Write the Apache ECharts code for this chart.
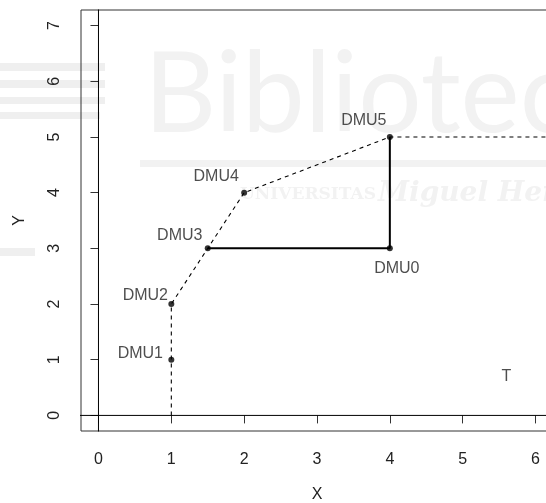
<!DOCTYPE html>
<html>
<head>
<meta charset="utf-8">
<script src="https://cdn.jsdelivr.net/npm/echarts@6/dist/echarts.min.js"></script>
<style>
  html, body { margin: 0; padding: 0; background: #fff; }
  #chart { width: 546px; height: 503px; }
</style>
</head>
<body>
<div id="chart"></div>
<script>
// Decision-making units and their (X, Y) coordinates
const unitNames = ['DMU0', 'DMU1', 'DMU2', 'DMU3', 'DMU4', 'DMU5'];
const unitX = [4, 1, 1, 1.5, 2, 4];
const unitY = [3, 1, 2, 3, 4, 5];

// Efficient frontier (dashed), from the X axis up to DMU5 and on to the right
const frontierX = [1, 1, 1, 1.5, 2, 4, 7];
const frontierY = [0, 1, 2, 3, 4, 5, 5];

// Projection path of DMU0 (solid)
const pathX = [1.5, 4, 4];
const pathY = [3, 3, 5];

// Region label
const regionLabel = 'T';
const regionX = 5.6;
const regionY = 0.7;

// Axis ticks
const xTicks = [0, 1, 2, 3, 4, 5, 6];
const yTicks = [0, 1, 2, 3, 4, 5, 6, 7];
const xRange = [-0.24, 6.24];
const yRange = [-0.28, 7.28];

// Label placement around each point (pixels)
const labelOffsets = {
  DMU0: [7, 20],
  DMU1: [-31, -6],
  DMU2: [-26, -8],
  DMU3: [-28, -13],
  DMU4: [-28, -16],
  DMU5: [-26, -16]
};

const FONT = 'Liberation Sans, Arial, sans-serif';
const TEXT = '#222';
const FS = 16;

const pairs = (xs, ys) => xs.map((x, i) => [x, ys[i]]);

const chart = echarts.init(document.getElementById('chart'), null, { renderer: 'canvas' });

const wm = '#f2f2f2';
const stripe = '#efefef';

chart.setOption({
  animation: false,
  backgroundColor: '#fff',
  textStyle: { fontFamily: FONT },
  graphic: [
    // faint library watermark in the background
    { type: 'rect', z: -10, shape: { x: 0, y: 63, width: 105, height: 8 }, style: { fill: stripe } },
    { type: 'rect', z: -10, shape: { x: 0, y: 80, width: 105, height: 8 }, style: { fill: stripe } },
    { type: 'rect', z: -10, shape: { x: 0, y: 97, width: 105, height: 7 }, style: { fill: stripe } },
    { type: 'rect', z: -10, shape: { x: 0, y: 112, width: 100, height: 7 }, style: { fill: stripe } },
    { type: 'rect', z: -10, shape: { x: 140, y: 160, width: 406, height: 7 }, style: { fill: '#f2f2f2' } },
    { type: 'rect', z: -10, shape: { x: 0, y: 248, width: 35, height: 8 }, style: { fill: stripe } },
    { type: 'text', z: -10, x: 144, y: 96, style: { text: 'Biblioteca', fill: wm, font: '400 112px Lato, sans-serif', verticalAlign: 'middle' } },
    { type: 'text', z: -10, x: 240, y: 195, style: { text: 'UNIVERSITAS', fill: wm, font: 'bold 17px "DejaVu Serif", serif', verticalAlign: 'middle' } },
    { type: 'text', z: -10, x: 378, y: 194, style: { text: 'Miguel Hernández', fill: wm, font: 'italic bold 28px "DejaVu Serif", serif', verticalAlign: 'middle' } }
  ],
  grid: {
    show: true,
    left: 81,
    top: 10,
    bottom: 72,
    right: -7,
    containLabel: false,
    outerBoundsMode: 'none',
    borderColor: '#333',
    borderWidth: 1,
    backgroundColor: 'transparent'
  },
  xAxis: {
    type: 'value',
    min: xRange[0],
    max: xRange[1],
    name: 'X',
    nameLocation: 'middle',
    nameGap: 56,
    nameTextStyle: { color: TEXT, fontSize: FS, fontFamily: FONT },
    axisLine: { show: false },
    splitLine: { show: false },
    axisTick: { show: true, inside: false, length: 8, customValues: xTicks, lineStyle: { color: '#333', width: 1 } },
    axisLabel: { show: true, margin: 21, customValues: xTicks, color: TEXT, fontSize: FS, fontFamily: FONT }
  },
  yAxis: {
    type: 'value',
    min: yRange[0],
    max: yRange[1],
    name: 'Y',
    nameLocation: 'middle',
    nameGap: 53,
    nameRotate: 90,
    nameTextStyle: { color: TEXT, fontSize: FS, fontFamily: FONT },
    axisLine: { show: false },
    splitLine: { show: false },
    axisTick: { show: true, inside: false, length: 8, customValues: yTicks, lineStyle: { color: '#333', width: 1 } },
    axisLabel: { show: true, rotate: 90, margin: 18, customValues: yTicks, color: TEXT, fontSize: FS, fontFamily: FONT }
  },
  series: [
    {
      // reference lines X = 0 and Y = 0
      type: 'line',
      data: [[0, yRange[0] - 1], [0, yRange[1] + 1]],
      symbol: 'none',
      clip: true,
      lineStyle: { color: '#000', width: 1 },
      silent: true
    },
    {
      type: 'line',
      data: [[xRange[0] - 1, 0], [xRange[1] + 1, 0]],
      symbol: 'none',
      clip: true,
      lineStyle: { color: '#000', width: 1 },
      silent: true
    },
    {
      type: 'line',
      data: pairs(frontierX, frontierY),
      symbol: 'none',
      clip: true,
      lineStyle: { color: '#000', width: 1.1, type: [4, 4] }
    },
    {
      type: 'line',
      data: pairs(pathX, pathY),
      symbol: 'none',
      clip: true,
      lineStyle: { color: '#000', width: 2 }
    },
    {
      type: 'scatter',
      symbol: 'circle',
      symbolSize: 6,
      itemStyle: { color: '#000' },
      z: 5,
      data: unitNames.map((n, i) => ({
        name: n,
        value: [unitX[i], unitY[i]],
        label: {
          show: true,
          formatter: n,
          position: 'inside',
          offset: labelOffsets[n],
          color: TEXT,
          fontSize: FS,
          fontFamily: FONT
        }
      }))
    },
    {
      type: 'scatter',
      symbolSize: 0,
      data: [{
        name: regionLabel,
        value: [regionX, regionY],
        label: { show: true, formatter: regionLabel, position: 'inside', color: TEXT, fontSize: FS, fontFamily: FONT }
      }]
    }
  ]
});
</script>
</body>
</html>
